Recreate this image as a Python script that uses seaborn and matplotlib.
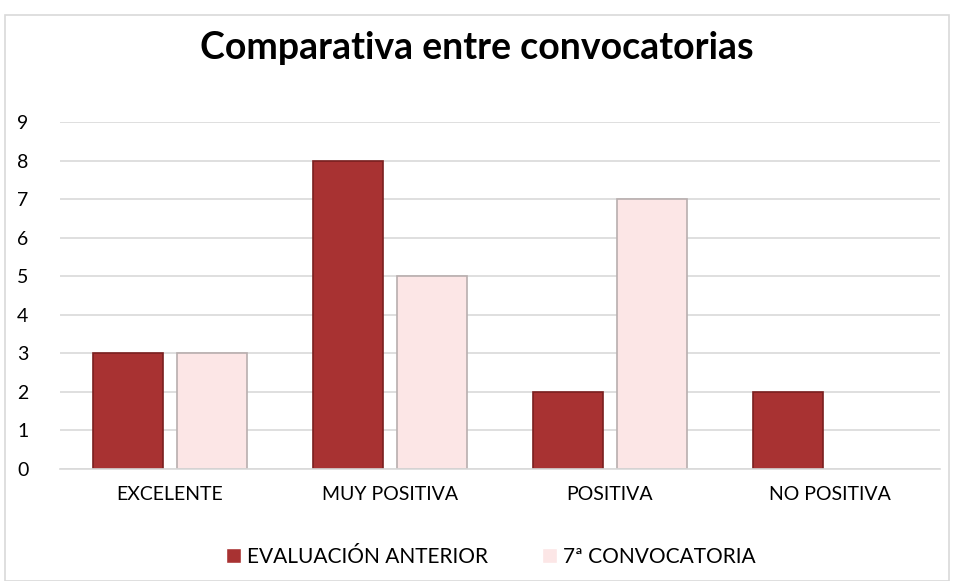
import matplotlib
matplotlib.use("Agg")
import matplotlib.pyplot as plt
import seaborn as sns
import pandas as pd
from matplotlib.patches import Rectangle

categories = ["EXCELENTE", "MUY POSITIVA", "POSITIVA", "NO POSITIVA"]
series_names = ["EVALUACIÓN ANTERIOR", "7ª CONVOCATORIA"]
eval_anterior = [3, 8, 2, 2]
convocatoria7 = [3, 5, 7, 0]
yticks = list(range(0, 10))
title = "Comparativa entre convocatorias"

df = pd.DataFrame({
    "cat": categories * 2,
    "serie": [series_names[0]] * 4 + [series_names[1]] * 4,
    "val": eval_anterior + convocatoria7,
})

sns.set_theme(style="white")
plt.rcParams['font.family'] = ['Lato', 'DejaVu Sans']
plt.rcParams['text.color'] = 'black'

fig = plt.figure(figsize=(9.54, 5.81), dpi=100)
ax = fig.add_axes([0.063, 0.193, 0.922, 0.597])

palette = {series_names[0]: "#A83232", series_names[1]: "#FCE6E6"}
sns.barplot(data=df, x="cat", y="val", hue="serie", palette=palette,
            width=0.764, gap=0.167, ax=ax, legend=True, saturation=1)

edge = {0: "#7A1F1F", 1: "#B8AEAE"}
for i, cont in enumerate(ax.containers):
    for bar in cont:
        bar.set_edgecolor(edge[i])
        bar.set_linewidth(1.2)
        if bar.get_height() == 0:
            bar.set_visible(False)

ax.set_ylim(0, 9)
ax.set_yticks(yticks)
ax.set_xlim(-0.5, 3.5)
ax.yaxis.grid(True, color="#D9D9D9", linewidth=1.2)
ax.set_axisbelow(True)
for s in ["top", "right", "left"]:
    ax.spines[s].set_visible(False)
ax.spines["bottom"].set_color("#D9D9D9")
ax.spines["bottom"].set_linewidth(1.2)
ax.set_xlabel("")
ax.set_ylabel("")
ax.tick_params(axis="both", length=0, labelsize=14, colors="#000000")
ax.tick_params(axis="y", pad=31)
ax.tick_params(axis="x", pad=12)
for lbl in ax.get_yticklabels():
    lbl.set_horizontalalignment("left")

fig.text(0.5, 0.917, title, ha="center", va="center", fontsize=27,
         fontweight="bold", color="black")

leg = ax.legend(loc="upper center", bbox_to_anchor=(0.49, -0.17), ncol=2,
                frameon=False, fontsize=15, handlelength=0.7, handleheight=0.7,
                columnspacing=2.6, handletextpad=0.3)
for t in leg.get_texts():
    t.set_color("black")

fig.patches.append(Rectangle((0.005, 0.0), 0.99, 0.974, transform=fig.transFigure,
                             fill=False, edgecolor="#D9D9D9", linewidth=1.2))

fig.savefig("out.png", dpi=100)
